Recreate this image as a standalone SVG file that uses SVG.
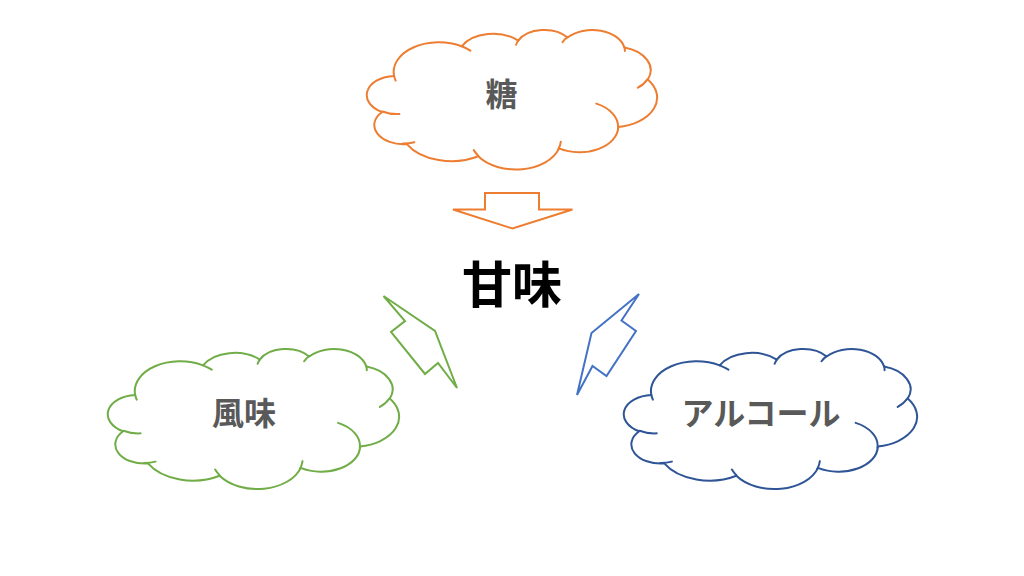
<svg xmlns="http://www.w3.org/2000/svg" xmlns:xlink="http://www.w3.org/1999/xlink" width="1024" height="576" viewBox="0 0 1024 576">
  <style>
    .cloud-body { vector-effect: non-scaling-stroke; stroke-width: 2; stroke-linejoin: round; }
    .cloud-tail { vector-effect: non-scaling-stroke; stroke-width: 2; fill: none; stroke-linecap: round; }
    .label { font-family: "Noto Sans CJK JP", "Noto Sans", sans-serif; font-size: 32px; font-weight: 700; fill: #595959; text-anchor: middle; }
    .title { font-family: "Noto Sans CJK JP", "Noto Sans", sans-serif; font-size: 50px; font-weight: 700; fill: #000000; text-anchor: middle; }
    .arrow { fill: #ffffff; stroke-width: 2; stroke-linejoin: miter; }
  </style>
  <defs>
    <g id="cloudShape">
      <path class="cloud-body" d="M3900,14370 A6753,9190 0 0 1 14005,5203 A5333,7267 0 0 1 22456,3433 A4365,5945 0 0 1 29833,2482 A4857,6595 0 0 1 38318,5578 A5333,7273 0 0 1 41819,15461 A6775,9220 0 0 1 37404,30204 A5785,7867 0 0 1 28555,36814 A6752,9215 0 0 1 16479,39265 A7720,10543 0 0 1 5804,35471 A4360,5918 0 0 1 2113,25549 A4345,5945 0 0 1 3900,14370 Z"/>
      <path class="cloud-tail" d="M4693,26177 A4345,5945 0 0 1 2160,25380 M6928,34899 A4360,5918 0 0 1 5212,35320 M16478,39090 A6752,9215 0 0 1 15811,37351 M28827,34751 A6752,9215 0 0 1 28451,37110 M34129,22954 A5785,7867 0 0 1 37364,30616 M41798,15354 A5333,7273 0 0 1 40350,18030 M38324,5426 A4857,6595 0 0 1 38400,6689 M29078,3952 A4857,6595 0 0 1 29820,2340 M22141,4720 A4365,5945 0 0 1 22500,3329 M14000,5192 A6753,9190 0 0 1 15300,6540 M4127,15789 A6753,9190 0 0 1 3900,14370"/>
    </g>
  </defs>

  <rect width="1024" height="576" fill="#ffffff"/>

  <g id="node-sugar">
    <use xlink:href="#cloudShape" href="#cloudShape" fill="#ffffff" stroke="#ED7D31" transform="translate(368,29.5) scale(0.0066898,0.0032292)"/>
    <text class="label" x="501.5" y="106">糖</text>
  </g>

  <g id="node-flavor">
    <use xlink:href="#cloudShape" href="#cloudShape" fill="#ffffff" stroke="#70AD47" transform="translate(109,348.5) scale(0.0067130,0.0032407)"/>
    <text class="label" x="244" y="425">風味</text>
  </g>

  <g id="node-alcohol">
    <use xlink:href="#cloudShape" href="#cloudShape" fill="#ffffff" stroke="#2F5597" transform="translate(625,348.5) scale(0.0067593,0.0032407)"/>
    <text class="label" x="761" y="425">アルコール</text>
  </g>

  <g id="node-sweetness">
    <text class="title" x="512" y="303">甘味</text>
  </g>

  <g id="connectors">
    <polygon class="arrow" stroke="#ED7D31" points="485,193 539,193 539,209.5 572.5,209.5 512.5,228.5 453,209.5 485,209.5"/>
    <polygon class="arrow" stroke="#70AD47" points="383.5,296 435,331 457,388 438,363 425,374 391,332 405,321"/>
    <polygon class="arrow" stroke="#4472C4" points="639,294 621.5,320.5 636,331 606.5,376 592.5,366 577,395 591.5,333"/>
  </g>
</svg>
